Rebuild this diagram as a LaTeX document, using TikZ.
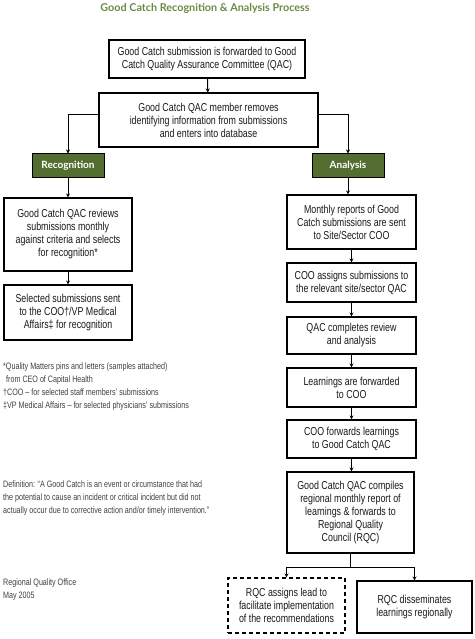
\documentclass[tikz,border=0pt]{standalone}
\usepackage{fontspec}
\setmainfont{Liberation Sans}
\newfontfamily\condfont[FakeStretch=0.77]{Liberation Sans}
\newfontfamily\headfont{Lato}
\usetikzlibrary{arrows.meta}
\definecolor{catchgreen}{RGB}{107,138,69}
\definecolor{boxgreen}{RGB}{84,110,50}

\begin{document}
\begin{tikzpicture}[x=1pt,y=-1pt,
  box/.style={draw,line width=1.1pt,align=center,inner sep=0pt,text=black!90,
    font=\condfont\fontsize{11.5}{13}\selectfont},
  head/.style={draw=black,line width=1pt,fill=boxgreen,text=white,inner sep=0pt,
    minimum width=72pt,minimum height=23pt,font=\headfont\bfseries\fontsize{10}{11}\selectfont},
  note/.style={anchor=north west,align=left,inner sep=0pt,text=black!75,
    font=\condfont\fontsize{9.3}{13}\selectfont},
  flow/.style={line width=1pt,-{Stealth[length=4pt,width=4pt]}}]
  \useasboundingbox (0,0) rectangle (474,639);
  % title
  \node[font=\headfont\bfseries\fontsize{10.8}{12}\selectfont,text=catchgreen] (title) at (205,8) {Good Catch Recognition \& Analysis Process};
  % top boxes
  \node[box,minimum width=196pt,minimum height=38pt] (submit) at (207,59) {Good Catch submission is forwarded to Good\\Catch Quality Assurance Committee (QAC)};
  \node[box,minimum width=219pt,minimum height=54pt] (remove) at (208.5,120) {Good Catch QAC member removes\\identifying information from submissions\\and enters into database};
  \node[head] (recog) at (68,165.5) {Recognition};
  \node[head] (anal) at (348,165.5) {Analysis};
  % recognition side
  \node[box,minimum width=128pt,minimum height=73pt] (review) at (68,234.5) {Good Catch QAC reviews\\submissions monthly\\against criteria and selects\\for recognition*};
  \node[box,minimum width=128pt,minimum height=55pt] (select) at (68,312.5) {Selected submissions sent\\to the COO†/VP Medical\\Affairs‡ for recognition};
  % analysis side
  \node[box,minimum width=129pt,minimum height=54pt] (monthly) at (351.5,222) {Monthly reports of Good\\Catch submissions are sent\\to Site/Sector COO};
  \node[box,minimum width=129pt,minimum height=39pt] (assign) at (351.5,282.5) {COO assigns submissions to\\the relevant site/sector QAC};
  \node[box,minimum width=129pt,minimum height=37pt] (complete) at (351.5,335.5) {QAC completes review\\and analysis};
  \node[box,minimum width=129pt,minimum height=39pt] (learn) at (351.5,387.5) {Learnings are forwarded\\to COO};
  \node[box,minimum width=129pt,minimum height=38pt] (fwd) at (351.5,439) {COO forwards learnings\\to Good Catch QAC};
  \node[box,minimum width=127pt,minimum height=81pt] (compile) at (350.5,512.5) {Good Catch QAC compiles\\regional monthly report of\\learnings \& forwards to\\Regional Quality\\Council (RQC)};
  \node[box,dash pattern=on 4pt off 3pt,minimum width=117pt,minimum height=55pt] (lead) at (286.5,605.5) {RQC assigns lead to\\facilitate implementation\\of the recommendations};
  \node[box,minimum width=115pt,minimum height=52pt] (dissem) at (414.5,607) {RQC disseminates\\learnings regionally};
  \coordinate (split) at (350.5,567);
  % notes
  \node[note] (stars) at (3,363) {*Quality Matters pins and letters (samples attached)\\\hspace*{3pt}from CEO of Capital Health\\†COO – for selected staff members’ submissions\\‡VP Medical Affairs – for selected physicians’ submissions};
  \node[note] (defn) at (3,481) {Definition: “A Good Catch is an event or circumstance that had\\the potential to cause an incident or critical incident but did not\\actually occur due to corrective action and/or timely intervention.”};
  \node[note] (office) at (3,579) {Regional Quality Office\\May 2005};
  % connectors
  \draw[flow] (submit) -- (remove);
  \draw[flow] ([yshift=5pt]remove.west) -| (recog);
  \draw[flow] ([yshift=5pt]remove.east) -| (anal);
  \draw[flow] (recog) -- (review);
  \draw[flow] (review) -- (select);
  \draw[flow] (anal) -- (anal |- monthly.north);
  \draw[flow] (monthly) -- (assign);
  \draw[flow] (assign) -- (complete);
  \draw[flow] (complete) -- (learn);
  \draw[flow] (learn) -- (fwd);
  \draw[flow] (fwd) -- (fwd |- compile.north);
  \draw[line width=1pt] (compile) -- (split);
  \draw[flow] (split) -| (lead);
  \draw[flow] (split) -| (dissem);
\end{tikzpicture}
\end{document}
